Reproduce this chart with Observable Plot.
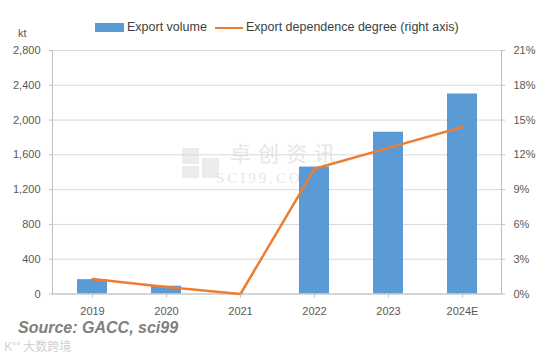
<!DOCTYPE html>
<html>
<head>
<meta charset="utf-8">
<script src="https://cdn.jsdelivr.net/npm/d3@7"></script>
<script src="https://cdn.jsdelivr.net/npm/@observablehq/plot@0.6"></script>
<style>
  body { margin: 0; background: #fff; font-family: "Liberation Sans", Arial, sans-serif; }
  #wrap { position: relative; width: 560px; height: 355px; overflow: hidden; }
  #chart { position: absolute; left: 0; top: 0; }
  .abs { position: absolute; white-space: nowrap; line-height: 1; }
  #legend { top: 21px; left: 0; width: 560px; height: 16px; font-size: 12.5px; color: #404040; }
  .sw { position: absolute; }
  #kt { left: 18px; top: 28px; font-size: 11px; color: #595959; }
  #source { left: 18px; top: 320px; font-size: 16px; font-weight: bold; font-style: italic; color: #7f7f7f; font-family: "Liberation Sans", Arial, sans-serif; }
  #wm2 { left: 4px; top: 340px; font-size: 12px; color: #d0d0d0; font-family: "Noto Sans CJK SC", sans-serif; }
  #wm { left: 182px; top: 142px; color: #e6e6e6; }
</style>
</head>
<body>
<div id="wrap">
  <div id="wm" class="abs">
    <div style="position:absolute;left:0;top:6px;width:17px;height:16px;background:#ececec;"></div>
    <div style="position:absolute;left:20px;top:16px;width:17px;height:20px;background:#ececec;"></div>
    <div style="position:absolute;left:0;top:24px;width:17px;height:12px;background:#ececec;"></div>
    <div style="position:absolute;left:48px;top:0px;font-size:21px;font-family:'Noto Sans CJK SC';letter-spacing:7px;line-height:1;">卓创资讯</div>
    <div style="position:absolute;left:34px;top:29px;font-size:15px;font-family:'Liberation Serif';letter-spacing:3px;line-height:1;">SCI99.COM</div>
  </div>
  <div id="chart"></div>
  <div id="legend" class="abs"></div>
  <div id="kt" class="abs">kt</div>
  <div id="source" class="abs">Source: GACC, sci99</div>
  <div id="wm2" class="abs">K°° 大数跨境</div>
</div>
<script>
const years = ["2019", "2020", "2021", "2022", "2023", "2024E"];
const exportVolume = [165, 90, 0, 1460, 1860, 2300];          // kt (left axis)
const dependenceDegree = [1.3, 0.6, 0, 10.8, 12.6, 14.4];     // % (right axis)
const leftTicks = [0, 400, 800, 1200, 1600, 2000, 2400, 2800];
const rightTicks = [0, 3, 6, 9, 12, 15, 18, 21];
const seriesNames = ["Export volume", "Export dependence degree (right axis)"];

const yMax = 2800, pMax = 21;
const toLeft = p => p * yMax / pMax;

const data = years.map((year, i) => ({year, volume: exportVolume[i], pct: dependenceDegree[i]}));

const blue = "#5B9BD5", orange = "#ED7D31";
const font = "'Liberation Sans', Arial, sans-serif";

const chart = Plot.plot({
  width: 560,
  height: 320,
  marginLeft: 52,
  marginRight: 59,
  marginTop: 50,
  marginBottom: 26.5,
  style: {fontFamily: font, fontSize: "11px", color: "#595959", background: "transparent"},
  x: {domain: years, paddingInner: 0.6, paddingOuter: 0.3, label: null},
  y: {domain: [0, yMax], label: null},
  marks: [
    Plot.gridY(leftTicks, {stroke: "#D9D9D9", strokeOpacity: 1}),
    Plot.barY(data, {x: "year", y: "volume", fill: blue}),
    Plot.ruleY([0], {stroke: "#BFBFBF"}),
    Plot.frame({anchor: "left", stroke: "#BFBFBF"}),
    Plot.frame({anchor: "right", stroke: "#BFBFBF"}),
    Plot.lineY(data, {x: "year", y: d => toLeft(d.pct), stroke: orange, strokeWidth: 2.5}),
    Plot.axisY({anchor: "left", ticks: leftTicks, tickSize: 3, tickPadding: 9, tickFormat: d3.format(","), stroke: "#BFBFBF", label: null}),
    Plot.axisY({anchor: "right", ticks: rightTicks.map(toLeft), tickSize: 3, tickPadding: 9, tickFormat: d => Math.round(d * pMax / yMax) + "%", stroke: "#BFBFBF", label: null}),
    Plot.axisX({anchor: "bottom", tickSize: 4, tickPadding: 9, stroke: "#BFBFBF", label: null})
  ]
});
document.getElementById("chart").appendChild(chart);

// legend
const legend = document.getElementById("legend");
legend.innerHTML = `
  <div class="sw" style="left:95px;top:2px;width:29px;height:9px;background:${blue}"></div>
  <div class="abs" style="left:127px;top:0px">${seriesNames[0]}</div>
  <div class="sw" style="left:215px;top:5.5px;width:28px;height:2.5px;background:${orange}"></div>
  <div class="abs" style="left:246px;top:0px">${seriesNames[1]}</div>`;
</script>
</body>
</html>
